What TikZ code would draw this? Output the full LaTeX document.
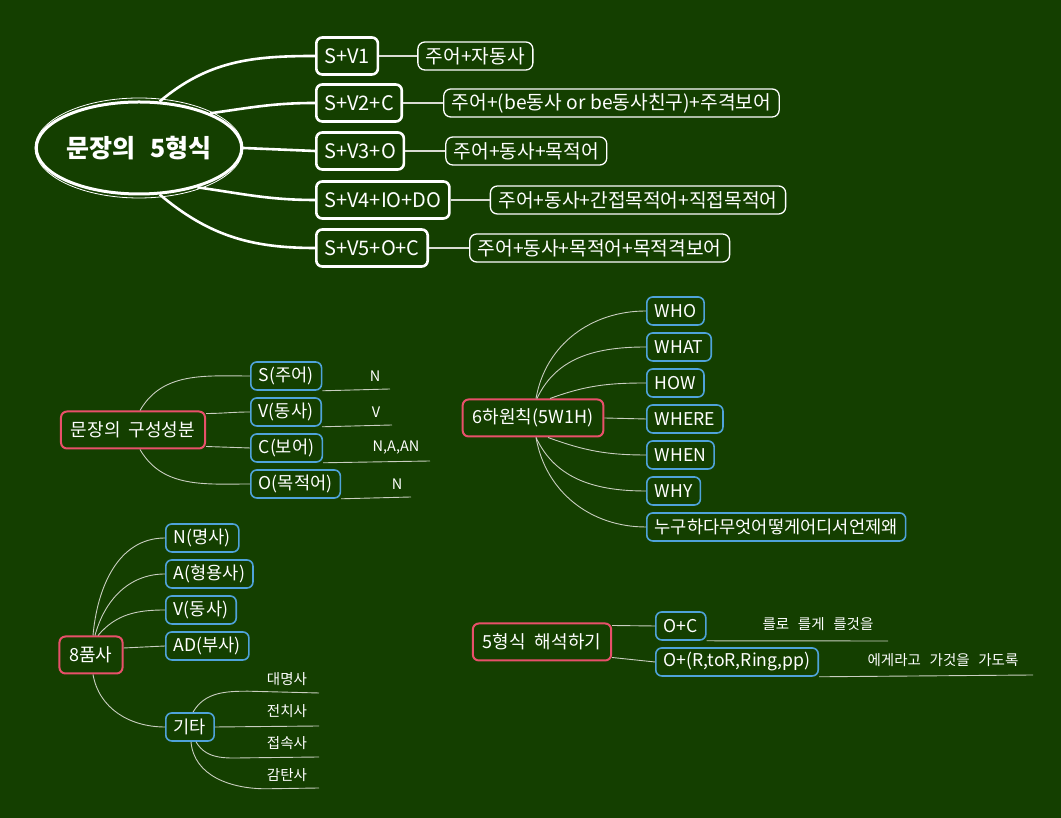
\documentclass[tikz,border=0pt]{standalone}
\usepackage{fontspec}
\setmainfont{Noto Sans CJK KR}
\usepackage{xcolor}
\usepackage{tikz}
\usetikzlibrary{
    positioning,
    shapes.geometric
}
\definecolor{boardgreen}{HTML}{143F00}
\definecolor{headborder}{HTML}{E8506A}
\definecolor{leafborder}{HTML}{4FA3DA}
\definecolor{linegray}{HTML}{C9CEC0}
\definecolor{descline}{HTML}{D9DCD2}
\tikzset{
    central/.style={
        ellipse, draw=white, line width=3pt, text=white,
        minimum width=200pt, minimum height=92pt, inner sep=0pt,
        font=\fontsize{25}{28}\selectfont\bfseries
    },
    form/.style={
        rectangle, draw=white, line width=2.6pt, text=white,
        rounded corners=6pt, minimum height=37pt, inner xsep=8pt,
        font=\fontsize{20}{23}\selectfont
    },
    formdesc/.style={
        rectangle, draw=white, line width=1.3pt, text=white,
        rounded corners=7pt, minimum height=28pt, inner xsep=8pt,
        font=\fontsize{19.2}{22}\selectfont
    },
    head/.style={
        rectangle, draw=headborder, line width=2pt, text=white,
        rounded corners=6pt, minimum height=37pt, inner xsep=10pt,
        font=\fontsize{18}{21}\selectfont
    },
    leaf/.style={
        rectangle, draw=leafborder, line width=1.6pt, text=white,
        rounded corners=6pt, minimum height=28pt, inner xsep=8pt,
        font=\fontsize{17.6}{21}\selectfont
    },
    note/.style={
        text=white, inner sep=0pt,
        font=\fontsize{14.5}{17}\selectfont
    },
    thick link/.style={draw=white, line width=2.6pt},
    desc link/.style={draw=descline, line width=1.6pt},
    thin link/.style={draw=linegray, line width=0.9pt},
}

\begin{document}
\begin{tikzpicture}[x=1pt, y=1pt, node distance=40pt]
    \fill[boardgreen] (0,0) rectangle (1061,818);
    \useasboundingbox (0,0) rectangle (1061,818);

    % 5 sentence forms
    \node[central] (fivefm) at (139,670) {문장의\hspace{0.6em}5형식};
    \draw[white, line width=0.8pt] (fivefm.center) ellipse [x radius=104pt, y radius=50pt];

    \node[form, anchor=west] (sv1) at (315,762) {S+V1};
    \node[form, anchor=west] (sv2) at (315,715) {S+V2+C};
    \node[form, anchor=west] (sv3) at (315,667) {S+V3+O};
    \node[form, anchor=west] (sv4) at (315,618) {S+V4+IO+DO};
    \node[form, anchor=west] (sv5) at (315,570) {S+V5+O+C};

    \node[formdesc, right=38pt of sv1] (sv1d) {주어+자동사};
    \node[formdesc, right=40pt of sv2] (sv2d) {주어+(be동사\hspace{0.25em}or be동사친구)+주격보어};
    \node[formdesc, right=40pt of sv3] (sv3d) {주어+동사+목적어};
    \node[formdesc, right=39pt of sv4] (sv4d) {주어+동사+간접목적어+직접목적어};
    \node[formdesc, right=40pt of sv5] (sv5d) {주어+동사+목적어+목적격보어};

    \draw[thick link] (fivefm.66) to[out=40,in=180] (sv1.west);
    \draw[thick link] (fivefm.26) to[out=8,in=180] (sv2.west);
    \draw[thick link] (fivefm.east) -- (sv3.west);
    \draw[thick link] (fivefm.-34) to[out=-8,in=180] (sv4.west);
    \draw[thick link] (fivefm.-66) to[out=-40,in=180] (sv5.west);

    \draw[desc link] (sv1) -- (sv1d);
    \draw[desc link] (sv2) -- (sv2d);
    \draw[desc link] (sv3) -- (sv3d);
    \draw[desc link] (sv4) -- (sv4d);
    \draw[desc link] (sv5) -- (sv5d);

    % sentence parts
    \node[head] (parts) at (133,388) {문장의\hspace{0.45em}구성성분};
    \node[leaf, anchor=west] (psubj) at (250,442) {S(주어)};
    \node[leaf, anchor=west] (pverb) at (250,406) {V(동사)};
    \node[leaf, anchor=west] (pcomp) at (250,370) {C(보어)};
    \node[leaf, anchor=west] (pobj) at (250,334) {O(목적어)};

    \draw[thin link] ([xshift=7pt]parts.north) to[out=60,in=180] (psubj.west);
    \draw[thin link] ([yshift=-3pt]parts.north east) to[out=0,in=180] (pverb.west);
    \draw[thin link] ([yshift=3pt]parts.south east) -- (pcomp.west);
    \draw[thin link] ([xshift=7pt]parts.south) to[out=-60,in=180] (pobj.west);

    \coordinate (psubj end) at (390,429);
    \coordinate (pverb end) at (392,393);
    \coordinate (pcomp end) at (430,357);
    \coordinate (pobj end) at (411,321);
    \draw[thin link] (psubj.south east) -- (psubj end);
    \draw[thin link] (pverb.south east) -- (pverb end);
    \draw[thin link] (pcomp.south east) -- (pcomp end);
    \draw[thin link] (pobj.south east) -- (pobj end);
    \node[note] (psubjn) at (375,442) {N};
    \node[note] (pverbn) at (376,406) {V};
    \node[note] (pcompn) at (396,370) {N,A,AN};
    \node[note] (pobjn) at (397,334) {N};

    % 5W1H
    \node[head] (fivew) at (533,400) {6하원칙(5W1H)};
    \node[leaf, anchor=west] (who) at (646,507) {WHO};
    \node[leaf, anchor=west] (what) at (646,471) {WHAT};
    \node[leaf, anchor=west] (how) at (646,435) {HOW};
    \node[leaf, anchor=west] (where) at (646,399) {WHERE};
    \node[leaf, anchor=west] (when) at (646,363) {WHEN};
    \node[leaf, anchor=west] (why) at (646,327) {WHY};
    \node[leaf, anchor=west] (nugu) at (646,291) {누구하다무엇어떻게어디서언제왜};

    \draw[thin link] ([xshift=3pt]fivew.north) to[out=80,in=180] (who.west);
    \draw[thin link] ([xshift=4pt]fivew.north) to[out=65,in=180] (what.west);
    \draw[thin link] ([xshift=17pt]fivew.north) to[out=20,in=180] (how.west);
    \draw[thin link] (fivew.east) -- (where.west);
    \draw[thin link] ([xshift=15pt]fivew.south) to[out=-20,in=180] (when.west);
    \draw[thin link] ([xshift=3pt]fivew.south) to[out=-65,in=180] (why.west);
    \draw[thin link] ([xshift=3pt]fivew.south) to[out=-80,in=180] (nugu.west);

    % parts of speech
    \node[head] (pos) at (91,163) {8품사};
    \node[leaf, anchor=west] (posn) at (165,280) {N(명사)};
    \node[leaf, anchor=west] (posa) at (165,244) {A(형용사)};
    \node[leaf, anchor=west] (posv) at (165,208) {V(동사)};
    \node[leaf, anchor=west] (posad) at (165,172) {AD(부사)};
    \node[leaf, anchor=west] (posetc) at (165,91) {기타};

    \draw[thin link] ([xshift=2pt]pos.north) to[out=85,in=180] (posn.west);
    \draw[thin link] ([xshift=4pt]pos.north) to[out=75,in=180] (posa.west);
    \draw[thin link] ([xshift=7pt]pos.north) to[out=50,in=180] (posv.west);
    \draw[thin link] ([yshift=7pt]pos.east) -- (posad.west);
    \draw[thin link] ([xshift=2pt]pos.south) to[out=-80,in=180] (posetc.west);

    \coordinate (etc1 end) at (319,125);
    \coordinate (etc2 end) at (319,92);
    \coordinate (etc3 end) at (319,61);
    \coordinate (etc4 end) at (319,30);
    \draw[thin link] ([xshift=3pt]posetc.north) to[out=60,in=180] ++(55,21) -- (etc1 end);
    \draw[thin link] (posetc.east) -- (etc2 end);
    \draw[thin link] ([xshift=6pt]posetc.south) to[out=-60,in=180] ++(55,-16) -- (etc3 end);
    \draw[thin link] ([xshift=1pt]posetc.south) to[out=-85,in=180] ++(75,-47) -- (etc4 end);
    \node[note] (etc1) at (287,139) {대명사};
    \node[note] (etc2) at (287,107) {전치사};
    \node[note] (etc3) at (287,75) {접속사};
    \node[note] (etc4) at (287,43) {감탄사};

    % reading the 5 forms
    \node[head] (interp) at (542,176) {5형식\hspace{0.5em}해석하기};
    \node[leaf, anchor=west] (ioc) at (655,192) {O+C};
    \node[leaf, anchor=west] (iorr) at (655,156) {O+(R,toR,Ring,pp)};

    \draw[thin link] ([yshift=-3pt]interp.north east) -- (ioc.west);
    \draw[thin link] ([yshift=4pt]interp.south east) -- (iorr.west);

    \coordinate (ioc end) at (888,177);
    \coordinate (iorr end) at (1033,143);
    \draw[thin link] (ioc.south east) -- (ioc end);
    \draw[thin link] (iorr.south east) -- (iorr end);
    \node[note] (iocn) at (818,194) {를로\hspace{0.6em}를게\hspace{0.6em}를것을};
    \node[note] (iorrn) at (943,158) {에게라고\hspace{0.6em}가것을\hspace{0.6em}가도록};
\end{tikzpicture}
\end{document}
